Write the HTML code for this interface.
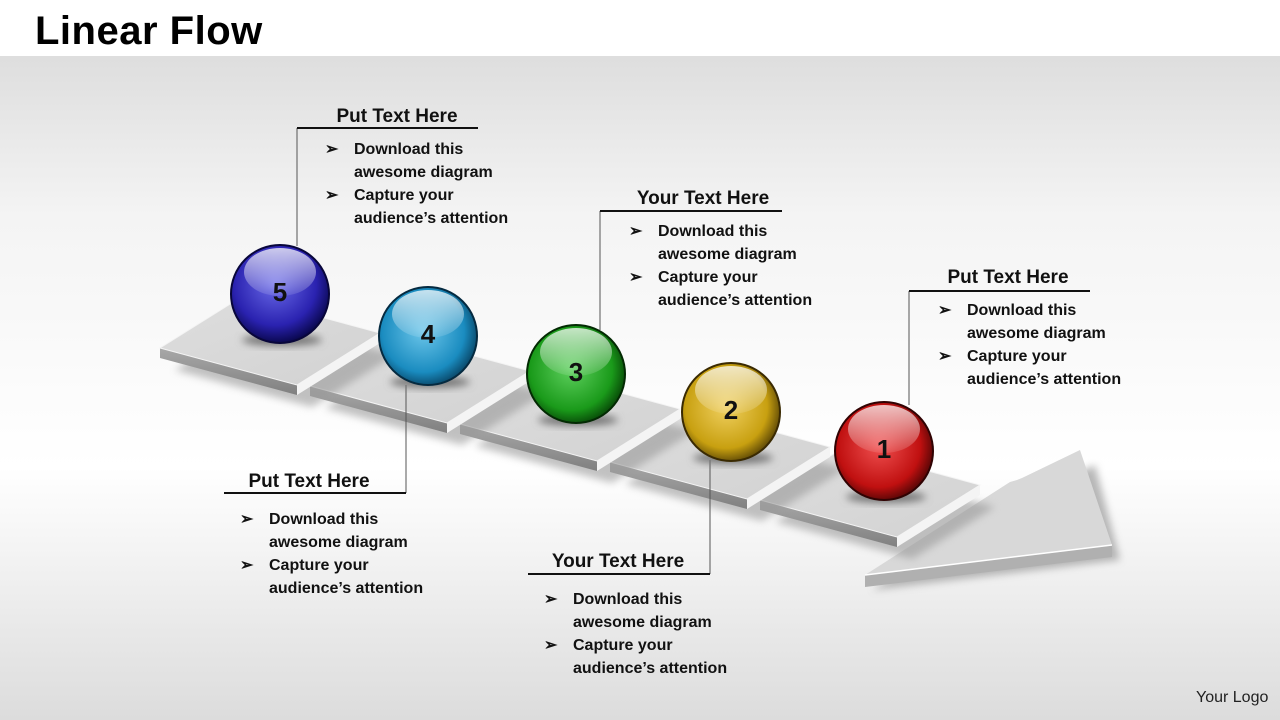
<!DOCTYPE html>
<html><head><meta charset="utf-8"><style>
html,body{margin:0;padding:0;width:1280px;height:720px;overflow:hidden;}
svg{display:block;font-family:"Liberation Sans",sans-serif;}
.h{font-size:19px;font-weight:bold;fill:#111;}
.b{font-size:16px;font-weight:bold;fill:#111;}
</style></head><body>
<svg width="1280" height="720" viewBox="0 0 1280 720" xmlns="http://www.w3.org/2000/svg">
<defs>
<linearGradient id="bg" x1="0" y1="0" x2="0" y2="1">
<stop offset="0" stop-color="#d6d6d6"/><stop offset="0.3" stop-color="#f4f4f4"/><stop offset="0.65" stop-color="#ffffff"/><stop offset="1" stop-color="#dcdcdc"/>
</linearGradient>
<linearGradient id="top" x1="0" y1="0" x2="1" y2="1"><stop offset="0" stop-color="#dedede"/><stop offset="1" stop-color="#d2d2d2"/></linearGradient>
<filter id="sh" x="-20%" y="-20%" width="140%" height="160%"><feGaussianBlur stdDeviation="4"/></filter>
<radialGradient id="g5" cx="0.45" cy="0.4" r="0.6"><stop offset="0" stop-color="#6a6ae8"/><stop offset="0.7" stop-color="#2a22b0"/><stop offset="1" stop-color="#0a0850"/></radialGradient>
<radialGradient id="g4" cx="0.45" cy="0.45" r="0.6"><stop offset="0" stop-color="#6cc6ea"/><stop offset="0.7" stop-color="#1a8cc0"/><stop offset="1" stop-color="#063a58"/></radialGradient>
<radialGradient id="g3" cx="0.45" cy="0.45" r="0.6"><stop offset="0" stop-color="#5ed05e"/><stop offset="0.7" stop-color="#1a9a1a"/><stop offset="1" stop-color="#043a04"/></radialGradient>
<radialGradient id="g2" cx="0.45" cy="0.45" r="0.6"><stop offset="0" stop-color="#f0d060"/><stop offset="0.7" stop-color="#c8a010"/><stop offset="1" stop-color="#4a3804"/></radialGradient>
<radialGradient id="g1" cx="0.45" cy="0.45" r="0.6"><stop offset="0" stop-color="#f05050"/><stop offset="0.7" stop-color="#c01010"/><stop offset="1" stop-color="#400404"/></radialGradient>
<linearGradient id="gl" x1="0" y1="0" x2="0" y2="1"><stop offset="0" stop-color="#fff" stop-opacity="0.75"/><stop offset="1" stop-color="#fff" stop-opacity="0.1"/></linearGradient>
<linearGradient id="fr" x1="0" y1="0" x2="0" y2="1"><stop offset="0" stop-color="#a8a8a8"/><stop offset="1" stop-color="#808080"/></linearGradient>
</defs>
<rect width="1280" height="720" fill="url(#bg)"/>
<rect width="1280" height="56" fill="#fff"/>
<text x="35" y="44" style="font-size:40px;font-weight:bold;fill:#000;letter-spacing:0.5px;">Linear Flow</text>

<!-- arrow -->
<polygon points="872,590 1120,560 1095,465 1030,495 1025,492" fill="#999" filter="url(#sh)" opacity="0.7"/>
<polygon points="865,575 865,587 1112,557 1112,545" fill="#b0b0b0"/>
<polygon points="865,575 1010,482 1017,480 1022,478 1080,450 1112,545" fill="#d8d8d8"/>
<polyline points="865,575 1112,545" stroke="#fff" stroke-width="1.5" fill="none"/>

<!-- slabs -->
<g>
<polygon points="775,522 912,559 995,507 858,470" fill="#999" filter="url(#sh)" opacity="0.6"/>
<polygon points="760,500 897,537 897,547 760,510" fill="url(#fr)"/><polygon points="897,537 980,485 980,495 897,547" fill="#f4f4f4"/><polygon points="760,500 897,537 980,485 843,448" fill="url(#top)" stroke="#f4f4f4" stroke-width="1"/>
<polygon points="625,484 762,521 845,469 708,432" fill="#999" filter="url(#sh)" opacity="0.6"/>
<polygon points="610,462 747,499 747,509 610,472" fill="url(#fr)"/><polygon points="747,499 830,447 830,457 747,509" fill="#f4f4f4"/><polygon points="610,462 747,499 830,447 693,410" fill="url(#top)" stroke="#f4f4f4" stroke-width="1"/>
<polygon points="475,446 612,483 695,431 558,394" fill="#999" filter="url(#sh)" opacity="0.6"/>
<polygon points="460,424 597,461 597,471 460,434" fill="url(#fr)"/><polygon points="597,461 680,409 680,419 597,471" fill="#f4f4f4"/><polygon points="460,424 597,461 680,409 543,372" fill="url(#top)" stroke="#f4f4f4" stroke-width="1"/>
<polygon points="325,408 462,445 545,393 408,356" fill="#999" filter="url(#sh)" opacity="0.6"/>
<polygon points="310,386 447,423 447,433 310,396" fill="url(#fr)"/><polygon points="447,423 530,371 530,381 447,433" fill="#f4f4f4"/><polygon points="310,386 447,423 530,371 393,334" fill="url(#top)" stroke="#f4f4f4" stroke-width="1"/>
<polygon points="175,370 312,407 395,355 258,318" fill="#999" filter="url(#sh)" opacity="0.6"/>
<polygon points="160,348 297,385 297,395 160,358" fill="url(#fr)"/><polygon points="297,385 380,333 380,343 297,395" fill="#f4f4f4"/><polygon points="160,348 297,385 380,333 243,296" fill="url(#top)" stroke="#f4f4f4" stroke-width="1"/>
</g>

<!-- connector lines -->
<g stroke="#555" stroke-width="1" fill="none">
<path d="M297,246 V128"/><path d="M600,330 V211"/><path d="M909,405 V291"/><path d="M406,385 V493"/><path d="M710,460 V574"/>
</g>
<g stroke="#111" stroke-width="2">
<line x1="297" y1="128" x2="478" y2="128"/><line x1="600" y1="211" x2="782" y2="211"/><line x1="909" y1="291" x2="1090" y2="291"/><line x1="224" y1="493" x2="406" y2="493"/><line x1="528" y1="574" x2="710" y2="574"/>
</g>

<!-- balls -->
<g>
<ellipse cx="282" cy="340" rx="40" ry="6" fill="#777" filter="url(#sh)"/>
<circle cx="280" cy="294" r="49" fill="url(#g5)" stroke="#08063a" stroke-width="2"/>
<ellipse cx="280" cy="272" rx="36" ry="24" fill="url(#gl)"/>
<text x="280" y="301" text-anchor="middle" style="font-size:26px;font-weight:bold;fill:#111;">5</text>
<ellipse cx="430" cy="382" rx="40" ry="6" fill="#777" filter="url(#sh)"/>
<circle cx="428" cy="336" r="49" fill="url(#g4)" stroke="#052a40" stroke-width="2"/>
<ellipse cx="428" cy="314" rx="36" ry="24" fill="url(#gl)"/>
<text x="428" y="343" text-anchor="middle" style="font-size:26px;font-weight:bold;fill:#111;">4</text>
<ellipse cx="578" cy="420" rx="40" ry="6" fill="#777" filter="url(#sh)"/>
<circle cx="576" cy="374" r="49" fill="url(#g3)" stroke="#032a03" stroke-width="2"/>
<ellipse cx="576" cy="352" rx="36" ry="24" fill="url(#gl)"/>
<text x="576" y="381" text-anchor="middle" style="font-size:26px;font-weight:bold;fill:#111;">3</text>
<ellipse cx="733" cy="458" rx="40" ry="6" fill="#777" filter="url(#sh)"/>
<circle cx="731" cy="412" r="49" fill="url(#g2)" stroke="#3a2a02" stroke-width="2"/>
<ellipse cx="731" cy="390" rx="36" ry="24" fill="url(#gl)"/>
<text x="731" y="419" text-anchor="middle" style="font-size:26px;font-weight:bold;fill:#111;">2</text>
<ellipse cx="886" cy="497" rx="40" ry="6" fill="#777" filter="url(#sh)"/>
<circle cx="884" cy="451" r="49" fill="url(#g1)" stroke="#300303" stroke-width="2"/>
<ellipse cx="884" cy="429" rx="36" ry="24" fill="url(#gl)"/>
<text x="884" y="458" text-anchor="middle" style="font-size:26px;font-weight:bold;fill:#111;">1</text>
</g>

<!-- text blocks -->
<g>
<text class="h" x="397" y="122" text-anchor="middle">Put Text Here</text>
<text class="b" x="325" y="154">➢</text><text class="b" x="354" y="154">Download this</text>
<text class="b" x="354" y="177">awesome diagram</text>
<text class="b" x="325" y="200">➢</text><text class="b" x="354" y="200">Capture your</text>
<text class="b" x="354" y="223">audience’s attention</text>

<text class="h" x="703" y="204" text-anchor="middle">Your Text Here</text>
<text class="b" x="629" y="236">➢</text><text class="b" x="658" y="236">Download this</text>
<text class="b" x="658" y="259">awesome diagram</text>
<text class="b" x="629" y="282">➢</text><text class="b" x="658" y="282">Capture your</text>
<text class="b" x="658" y="305">audience’s attention</text>

<text class="h" x="1008" y="283" text-anchor="middle">Put Text Here</text>
<text class="b" x="938" y="315">➢</text><text class="b" x="967" y="315">Download this</text>
<text class="b" x="967" y="338">awesome diagram</text>
<text class="b" x="938" y="361">➢</text><text class="b" x="967" y="361">Capture your</text>
<text class="b" x="967" y="384">audience’s attention</text>

<text class="h" x="309" y="487" text-anchor="middle">Put Text Here</text>
<text class="b" x="240" y="524">➢</text><text class="b" x="269" y="524">Download this</text>
<text class="b" x="269" y="547">awesome diagram</text>
<text class="b" x="240" y="570">➢</text><text class="b" x="269" y="570">Capture your</text>
<text class="b" x="269" y="593">audience’s attention</text>

<text class="h" x="618" y="567" text-anchor="middle">Your Text Here</text>
<text class="b" x="544" y="604">➢</text><text class="b" x="573" y="604">Download this</text>
<text class="b" x="573" y="627">awesome diagram</text>
<text class="b" x="544" y="650">➢</text><text class="b" x="573" y="650">Capture your</text>
<text class="b" x="573" y="673">audience’s attention</text>

<text x="1196" y="702" style="font-size:16px;fill:#222;">Your Logo</text>
</g>
</svg>
</body></html>
